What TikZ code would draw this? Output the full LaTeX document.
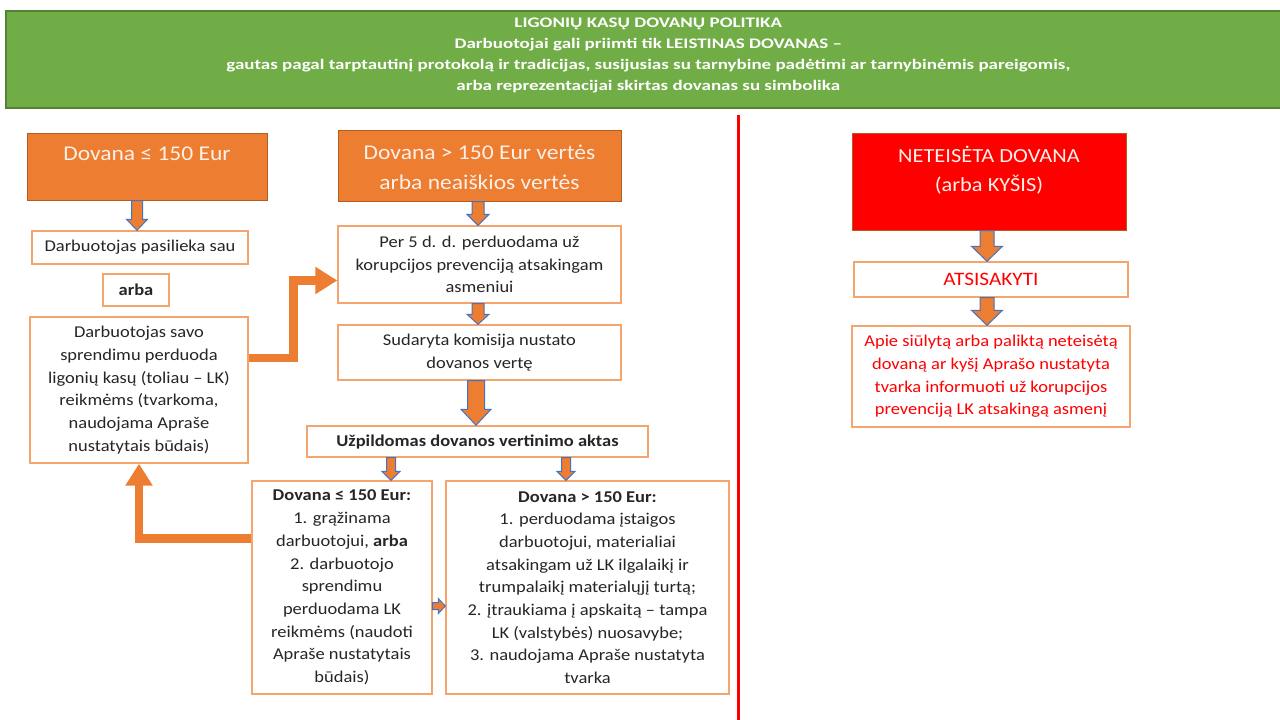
\documentclass[tikz,border=0pt]{standalone}
\usepackage{fontspec}
\setmainfont{Carlito}[FakeStretch=1.12]
\newfontfamily\banfont{Carlito}[FakeStretch=1.3]
\usetikzlibrary{arrows.meta,calc}
\definecolor{grn}{HTML}{70AD47}
\definecolor{grnd}{HTML}{548235}
\definecolor{aor}{HTML}{ED7D31}
\definecolor{aord}{HTML}{B35D22}
\definecolor{boxor}{HTML}{F4A46C}
\definecolor{blu}{HTML}{4472C4}
\definecolor{txt}{HTML}{262626}
\definecolor{hdtxt}{HTML}{FDF0E8}
\definecolor{rd}{HTML}{FF0000}
\newcommand\blkdown[6]{\path let \p1=(#2.south), \p2=(#3.north) in [blkarrow]
  (#1pt-#4pt,\y1) -- (#1pt+#4pt,\y1) -- (#1pt+#4pt,\y2+#6pt) -- (#1pt+#5pt,\y2+#6pt) --
  (#1pt,\y2) -- (#1pt-#5pt,\y2+#6pt) -- (#1pt-#4pt,\y2+#6pt) -- cycle;}
\newcommand\blkright[6]{\path let \p1=(#2.east), \p2=(#3.west) in [blkarrow]
  (\x1,#1pt+#4pt) -- (\x2-#6pt,#1pt+#4pt) -- (\x2-#6pt,#1pt+#5pt) -- (\x2,#1pt) --
  (\x2-#6pt,#1pt-#5pt) -- (\x2-#6pt,#1pt-#4pt) -- (\x1,#1pt-#4pt) -- cycle;}
\begin{document}
\begin{tikzpicture}[x=1pt,y=-1pt,
  box/.style={draw=boxor, line width=1.4pt, fill=white, align=center, inner sep=0pt,
    font=\fontsize{16.5}{22.7}\selectfont, text=txt},
  hdr/.style={draw=aord, line width=1pt, fill=aor},
  hdrtext/.style={anchor=north, inner sep=0pt, align=center, text=hdtxt,
    font=\fontsize{21}{30.5}\selectfont},
  blkarrow/.style={fill=aor, draw=blu, line width=1pt, line join=miter},
  thickarr/.style={draw=aor, line width=8.5pt, line join=miter,
    -{Triangle[length=22pt,width=26pt]}}]
\useasboundingbox[fill=white] (0,0) rectangle (1280,720);

% banner
\node[draw=grnd, line width=1.5pt, fill=grn, minimum width=1285pt, minimum height=97pt,
  inner sep=0pt, anchor=north west,
  label={[name=bantext, anchor=center, yshift=4pt, inner sep=0pt, align=center, text=white,
    font=\banfont\bfseries\fontsize{14.6}{21}\selectfont]center:{LIGONIŲ KASŲ DOVANŲ POLITIKA\\
    Darbuotojai gali priimti tik LEISTINAS DOVANAS –\\
    gautas pagal tarptautinį protokolą ir tradicijas, susijusias su tarnybine padėtimi ar tarnybinėmis pareigomis,\\
    arba reprezentacijai skirtas dovanas su simbolika}}] (banner) at (5,10) {};

% left column
\node[hdr, minimum width=240pt, minimum height=67pt,
  label={[name=hdrAt, hdrtext, yshift=-14pt]north:{Dovana ≤ 150 Eur}}] (hdrA) at (147,166.5) {};
\node[box, minimum width=216pt, minimum height=33pt] (dpas) at (140,247.5) {Darbuotojas pasilieka sau};
\node[box, minimum width=66pt, minimum height=32pt, font=\bfseries\fontsize{16.5}{22.7}\selectfont] (arba) at (136,290) {arba};
\node[box, minimum width=218pt, minimum height=146pt] (dsavo) at (139,390)
  {Darbuotojas savo\\sprendimu perduoda\\ligonių kasų (toliau – LK)\\reikmėms (tvarkoma,\\naudojama Apraše\\nustatytais būdais)};

% middle column
\node[hdr, minimum width=283pt, minimum height=71pt,
  label={[name=hdrBt, hdrtext, yshift=-15pt]north:{Dovana > 150 Eur vertės\\arba neaiškios vertės}}] (hdrB) at (479.5,165.5) {};
\node[box, minimum width=283pt, minimum height=77pt] (per5) at (479.5,264.5)
  {Per 5 d. d. perduodama už\\korupcijos prevenciją atsakingam\\asmeniui};
\node[box, minimum width=283pt, minimum height=55pt] (sud) at (479.5,352.5)
  {Sudaryta komisija nustato\\dovanos vertę};
\node[box, minimum width=341pt, minimum height=31pt, font=\bfseries\fontsize{16.5}{22.7}\selectfont] (akt) at (477.5,441.5)
  {Užpildomas dovanos vertinimo aktas};
\node[box, minimum width=180pt, minimum height=213pt] (c1) at (342,587.5)
  {\textbf{Dovana ≤ 150 Eur:}\\1. grąžinama\\darbuotojui, \textbf{arba}\\2. darbuotojo\\sprendimu\\perduodama LK\\reikmėms (naudoti\\Apraše nustatytais\\būdais)};
\node[box, minimum width=283pt, minimum height=213pt] (c2) at (587.5,587.5)
  {\textbf{Dovana > 150 Eur:}\\1. perduodama įstaigos\\darbuotojui, materialiai\\atsakingam už LK ilgalaikį ir\\trumpalaikį materialųjį turtą;\\2. įtraukiama į apskaitą – tampa\\LK (valstybės) nuosavybe;\\3. naudojama Apraše nustatyta\\tvarka};

% divider
\draw[rd, line width=3pt] (738,115) -- (738,720);

% right column
\node[draw=aord, line width=1pt, fill=rd, minimum width=274pt, minimum height=97pt,
  label={[name=hdrCt, hdrtext, yshift=-13pt, font=\fontsize{20}{29}\selectfont]north:{NETEISĖTA DOVANA\\(arba KYŠIS)}}] (hdrC) at (989,181.5) {};
\node[box, minimum width=274pt, minimum height=35pt, text=rd, font=\fontsize{19}{22.7}\selectfont] (ats) at (991,279.5) {ATSISAKYTI};
\node[box, minimum width=278pt, minimum height=101pt, text=rd] (info) at (991,376.5)
  {Apie siūlytą arba paliktą neteisėtą\\dovaną ar kyšį Aprašo nustatyta\\tvarka informuoti už korupcijos\\prevenciją LK atsakingą asmenį};

% block arrows
\blkdown{137}{hdrA}{dpas}{5.5}{10.5}{11}
\blkdown{478}{hdrB}{per5}{6}{11}{11}
\blkdown{478}{per5}{sud}{6}{11}{10}
\blkdown{476}{sud}{akt}{8.5}{15}{16}
\blkdown{391}{akt}{c1}{4.5}{9}{9}
\blkdown{566}{akt}{c2}{4.5}{9}{9}
\blkdown{987}{hdrC}{ats}{7}{15.5}{15}
\blkdown{987}{ats}{info}{7}{15.5}{15}
\blkright{-606}{c1}{c2}{3.5}{7.5}{7}

% thick connectors
\draw[thickarr] ([yshift=32pt]dsavo.east) -- ++(45,0) |- ([yshift=-16pt]per5.west);
\draw[thickarr] ([yshift=49pt]c1.west) -| (dsavo.south);
\end{tikzpicture}
\end{document}
